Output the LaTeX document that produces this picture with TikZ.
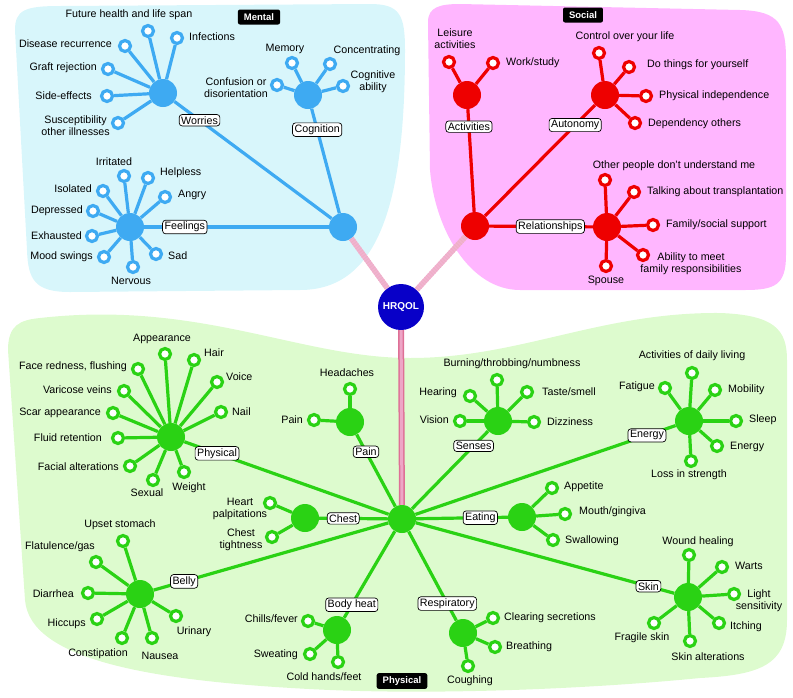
\documentclass[tikz,border=0pt]{standalone}
\usepackage{fontspec}
\setmainfont{Liberation Sans}

\definecolor{mentalbg}{RGB}{216,246,251}
\definecolor{socialbg}{RGB}{255,182,255}
\definecolor{physbg}{RGB}{221,251,206}
\definecolor{mblue}{RGB}{62,170,242}
\definecolor{sred}{RGB}{238,0,0}
\definecolor{pgreen}{RGB}{42,210,20}
\definecolor{coreblue}{RGB}{8,0,200}
\definecolor{linkpink}{RGB}{242,178,210}
\definecolor{linkdark}{RGB}{222,112,150}

\tikzset{
  hub/.style={circle, fill=#1, minimum size=28pt, inner sep=0pt},
  leaf/.style={circle, draw=#1, fill=white, line width=3.2pt, minimum size=11pt, inner sep=0pt},
  branch/.style={draw=#1, line width=3.2pt},
  tag/.style={draw=black, text=black, fill=white, rounded corners=3pt, inner xsep=2pt,
    inner ysep=1.8pt, line width=0.7pt},
  txt/.style={inner sep=0pt, align=center},
  title/.style={fill=black, text=white, font=\bfseries\fontsize{9.5}{10}\selectfont,
    rounded corners=2pt, inner xsep=6pt, minimum height=15pt},
  link/.style={line width=5.5pt, draw=linkpink},
  stripes/.style={line width=5.5pt, draw=linkdark!55, dash pattern=on 1pt off 1.6pt},
}

\begin{document}
\begin{tikzpicture}[x=1pt, y=-1pt, font=\fontsize{10.7}{12}\selectfont]
    \useasboundingbox (0,0) rectangle (793,697);

    % Areas
    \fill[mentalbg] (15,30) .. controls (15,10) and (25,6) .. (60,6) -- (370,4)
        .. controls (400,4) and (405,15) .. (405,50)
        .. controls (405,200) and (380,290) .. (300,290) -- (70,292)
        .. controls (35,292) and (28,280) .. (27,250) -- cycle;
    \fill[socialbg] (428,22) .. controls (428,7) and (440,4) .. (460,4) -- (740,10)
        .. controls (780,11) and (786,25) .. (786,60) -- (786,255)
        .. controls (786,285) and (775,290) .. (745,290) -- (520,290)
        .. controls (470,290) and (435,230) .. (430,170) -- cycle;
    \fill[physbg] (8,350) .. controls (8,325) and (20,320) .. (40,318)
        .. controls (200,300) and (300,358) .. (410,358)
        .. controls (520,358) and (600,312) .. (720,313)
        .. controls (775,315) and (787,330) .. (787,360) -- (787,620)
        .. controls (787,665) and (760,675) .. (700,678)
        .. controls (600,688) and (450,695) .. (330,690)
        .. controls (150,682) and (30,660) .. (25,600) -- cycle;

    \node[title] (mentaltitle) at (259,17) {Mental};
    \node[title] (socialtitle) at (583,15) {Social};
    \node[title] (phystitle) at (402,681) {Physical};

    % Core and main hubs
    \node[circle, fill=coreblue, minimum size=46pt, inner sep=0pt, text=white,
        font=\bfseries\fontsize{10}{10}\selectfont] (core) at (401,307) {HRQOL};
    \node[hub=mblue] (mental) at (343,227) {};
    \node[hub=sred] (social) at (475,226) {};
    \node[hub=pgreen] (phys) at (402,519) {};

    \draw[link] (mental) -- (core);
    \draw[stripes] (mental) -- (core);
    \draw[link] (social) -- (core);
    \draw[stripes] (social) -- (core);
    \draw[line width=6pt, draw=linkdark] (core) -- (phys);
    \draw[line width=3pt, draw=linkpink!80!linkdark] (core) -- (phys);

    % Mental
    \node[hub=mblue] (wor) at (163,93) {};
    \node[hub=mblue] (cog) at (308,95) {};
    \node[hub=mblue] (feel) at (130,227) {};
    \draw[branch=mblue] (wor) -- node[tag, pos=.16] (worlbl) {Worries} (mental);
    \draw[branch=mblue] (cog) -- node[tag, pos=.2] (coglbl) {Cognition} (mental);
    \draw[branch=mblue] (feel) -- node[tag, pos=.22] (feellbl) {Feelings} (mental);
    \foreach \h/\n/\cx/\cy/\anc/\lx/\ly/\lbl in {
        wor/wa/148/31/center/129/15/{Future health and life span},
        wor/wb/177/38/west/189/37/{Infections},
        wor/wc/125/46/east/112/44/{Disease recurrence},
        wor/wd/108/69/east/97/68/{Graft rejection},
        wor/we/107/96/east/92/96/{Side-effects},
        wor/wf/118/123/east/110/126/{Susceptibility\\other illnesses},
        cog/ca/292/63/center/285/49/{Memory},
        cog/cb/330/64/center/367/51/{Concentrating},
        cog/cc/343/86/center/373/82/{Cognitive\\ability},
        cog/cd/277/85/center/236/88/{Confusion or\\disorientation},
        feel/fa/124/176/center/114/162/{Irritated},
        feel/fb/148/178/west/160/173/{Helpless},
        feel/fc/165/197/west/178/195/{Angry},
        feel/fd/103/191/east/92/189/{Isolated},
        feel/fe/93/211/east/83/211/{Depressed},
        feel/ff/92/236/east/82/236/{Exhausted},
        feel/fg/104/257/east/93/257/{Mood swings},
        feel/fh/133/267/center/131/281/{Nervous},
        feel/fi/156/254/west/168/256/{Sad}} {
        \node[leaf=mblue] (\n) at (\cx,\cy) {};
        \draw[branch=mblue] (\h) -- (\n);
        \node[txt, anchor=\anc] (\n-t) at (\lx,\ly) {\lbl};
    }

    % Social
    \node[hub=sred] (act) at (467,95) {};
    \node[hub=sred] (aut) at (605,95) {};
    \node[hub=sred] (rel) at (607,227) {};
    \draw[branch=sred] (act) -- node[tag, pos=.17] (actlbl) {Activities} (social);
    \draw[branch=sred] (aut) -- node[tag, pos=.18] (autlbl) {Autonomy} (social);
    \draw[branch=sred] (rel) -- node[tag, pos=.41] (rellbl) {Relationships} (social);
    \foreach \h/\n/\cx/\cy/\anc/\lx/\ly/\lbl in {
        act/aa/449/62/center/455/39/{Leisure\\activities},
        act/ab/493/63/west/506/63/{Work/study},
        aut/ua/599/53/center/625/37/{Control over your life},
        aut/ub/629/67/west/647/65/{Do things for yourself},
        aut/uc/646/96/west/659/96/{Physical independence},
        aut/ud/635/123/west/648/124/{Dependency others},
        rel/ra/605/180/center/674/166/{Other people don't understand me},
        rel/rb/634/192/west/647/192/{Talking about transplantation},
        rel/rc/653/225/west/666/225/{Family/social support},
        rel/rd/643/255/center/691/264/{Ability to meet\\family responsibilities},
        rel/re/606/266/center/606/281/{Spouse}} {
        \node[leaf=sred] (\n) at (\cx,\cy) {};
        \draw[branch=sred] (\h) -- (\n);
        \node[txt, anchor=\anc] (\n-t) at (\lx,\ly) {\lbl};
    }

    % Physical
    \node[hub=pgreen] (look) at (171,437) {};
    \node[hub=pgreen] (pain) at (350,422) {};
    \node[hub=pgreen] (sens) at (498,421) {};
    \node[hub=pgreen] (ener) at (689,421) {};
    \node[hub=pgreen] (chest) at (305,518) {};
    \node[hub=pgreen] (eat) at (522,517) {};
    \node[hub=pgreen] (belly) at (140,594) {};
    \node[hub=pgreen] (heat) at (337,630) {};
    \node[hub=pgreen] (resp) at (463,633) {};
    \node[hub=pgreen] (skin) at (688,597) {};
    \draw[branch=pgreen] (look) -- node[tag, pos=.16] (looklbl) {Physical} (phys);
    \draw[branch=pgreen] (pain) -- node[tag, pos=.24] (painlbl) {Pain} (phys);
    \draw[branch=pgreen] (sens) -- node[tag, pos=.19] (senslbl) {Senses} (phys);
    \draw[branch=pgreen] (ener) -- node[tag, pos=.11] (enerlbl) {Energy} (phys);
    \draw[branch=pgreen] (chest) -- node[tag, pos=.35] (chestlbl) {Chest} (phys);
    \draw[branch=pgreen] (eat) -- node[tag, pos=.3] (eatlbl) {Eating} (phys);
    \draw[branch=pgreen] (belly) -- node[tag, pos=.13] (bellylbl) {Belly} (phys);
    \draw[branch=pgreen] (heat) -- node[tag, pos=.15] (heatlbl) {Body heat} (phys);
    \draw[branch=pgreen] (resp) -- node[tag, pos=.19] (resplbl) {Respiratory} (phys);
    \draw[branch=pgreen] (skin) -- node[tag, pos=.1] (skinlbl) {Skin} (phys);
    \foreach \h/\n/\cx/\cy/\anc/\lx/\ly/\lbl in {
        look/pa/165/354/center/162/339/{Appearance},
        look/pb/194/360/west/204/353/{Hair},
        look/pc/217/382/west/226/377/{Voice},
        look/pd/221/412/west/232/412/{Nail},
        look/pe/138/369/east/127/367/{Face redness, flushing},
        look/pf/124/391/east/112/390/{Varicose veins},
        look/pg/113/413/east/101/413/{Scar appearance},
        look/ph/118/438/east/102/438/{Fluid retention},
        look/pi/130/466/east/119/467/{Facial alterations},
        look/pj/153/480/center/147/493/{Sexual},
        look/pk/184/472/center/189/488/{Weight},
        pain/na/350/389/center/347/373/{Headaches},
        pain/nb/314/420/east/303/420/{Pain},
        sens/sa/497/380/center/512/364/{Burning/throbbing/numbness},
        sens/sb/470/396/east/457/393/{Hearing},
        sens/sc/460/421/east/449/420/{Vision},
        sens/sd/527/392/west/542/392/{Taste/smell},
        sens/se/534/422/west/547/422/{Dizziness},
        ener/ea/692/373/center/692/356/{Activities of daily living},
        ener/eb/665/388/east/655/387/{Fatigue},
        ener/ec/715/390/west/728/390/{Mobility},
        ener/ed/736/421/west/749/420/{Sleep},
        ener/ee/717/446/west/730/447/{Energy},
        ener/ef/691/461/center/689/475/{Loss in strength},
        chest/ha/270/503/center/240/509/{Heart\\palpitations},
        chest/hb/272/537/center/241/540/{Chest\\tightness},
        eat/ta/552/488/west/564/487/{Appetite},
        eat/tb/565/514/west/579/512/{Mouth/gingiva},
        eat/tc/553/540/west/565/541/{Swallowing},
        belly/ba/123/541/center/120/525/{Upset stomach},
        belly/bb/96/562/center/60/547/{Flatulence/gas},
        belly/bc/88/593/east/74/594/{Diarrhea},
        belly/bd/97/619/east/86/624/{Hiccups},
        belly/be/122/638/center/98/654/{Constipation},
        belly/bf/152/638/center/160/656/{Nausea},
        belly/bg/176/616/center/194/632/{Urinary},
        heat/da/308/621/east/298/619/{Chills/fever},
        heat/db/310/654/east/298/655/{Sweating},
        heat/dc/338/662/center/324/677/{Cold hands/feet},
        resp/ia/493/618/west/504/618/{Clearing secretions},
        resp/ib/495/647/west/506/647/{Breathing},
        resp/ic/468/666/center/470/681/{Coughing},
        skin/ka/689/555/center/698/542/{Wound healing},
        skin/kb/722/567/west/735/566/{Warts},
        skin/kc/734/594/center/759/601/{Light\\sensitivity},
        skin/kd/719/623/west/730/627/{Itching},
        skin/ke/690/641/center/708/657/{Skin alterations},
        skin/kf/654/623/center/642/638/{Fragile skin}} {
        \node[leaf=pgreen] (\n) at (\cx,\cy) {};
        \draw[branch=pgreen] (\h) -- (\n);
        \node[txt, anchor=\anc] (\n-t) at (\lx,\ly) {\lbl};
    }
\end{tikzpicture}
\end{document}
